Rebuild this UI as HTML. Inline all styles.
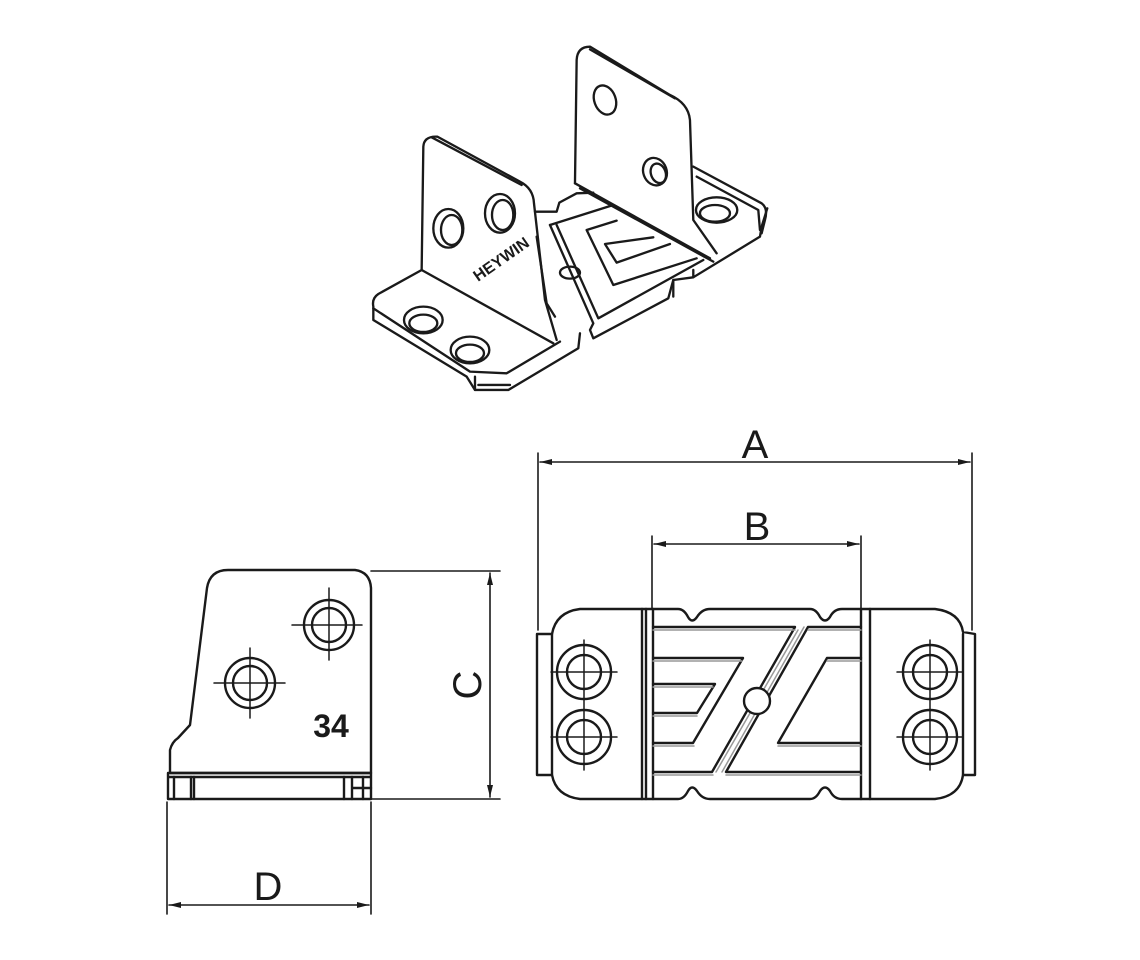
<!DOCTYPE html>
<html><head><meta charset="utf-8"><style>
html,body{margin:0;padding:0;background:#fff;}
svg{display:block}
text{font-family:"Liberation Sans",sans-serif;fill:#1a1a1a}
</style></head><body>
<svg width="1140" height="960" viewBox="0 0 1140 960" xmlns="http://www.w3.org/2000/svg">
<defs>
<marker id="ar" viewBox="0 0 12 6" refX="12" refY="3" markerWidth="12" markerHeight="6" orient="auto-start-reverse" markerUnits="userSpaceOnUse"><path d="M0,0 L12,3 L0,6 Z" fill="#1a1a1a"/></marker>
</defs>
<g fill="none" stroke="#1a1a1a" stroke-width="2.4" stroke-linejoin="round" stroke-linecap="round">

<!-- ISOMETRIC (zoom coords) -->
<g transform="translate(360,40) scale(0.3333)" stroke-width="7">
 <path d="M185,690 L190,320 Q192,288 232,290 L480,425 Q520,445 522,490 L555,780 L590,900"/>
 <path d="M215,292 L485,435"/>
 <path d="M530,590 L560,790 L585,830"/>
 <path d="M185,690 L580,910"/>
 <path d="M185,690 L55,762 Q35,775 40,800 L40,840 L320,1010 L345,1050 L445,1050 L655,925 L660,880"/>
 <path d="M40,805 L330,995 L440,1000 L600,905"/>
 <path d="M345,1010 L345,1050 M355,1035 L450,1035"/>
 <ellipse cx="190" cy="840" rx="58" ry="40"/><ellipse cx="190" cy="850" rx="42" ry="26"/>
 <ellipse cx="330" cy="930" rx="58" ry="40"/><ellipse cx="330" cy="940" rx="42" ry="26"/>
 <ellipse cx="265" cy="565" rx="45" ry="58"/><ellipse cx="275" cy="570" rx="32" ry="45"/>
 <ellipse cx="420" cy="520" rx="45" ry="58"/><ellipse cx="428" cy="525" rx="32" ry="45"/>
 <path d="M525,515 L590,515 L598,488 L650,460 L700,458"/>
 <path d="M570,555 L700,850 L690,870 L700,895 L925,775 L940,720 L1000,712 L1200,590 L1205,560 L1222,505"/>
 <path d="M570,555 L760,495"/>
 <path d="M590,555 L715,835 L1030,660"/>
 <path d="M770,542 L680,570 L760,735 L1010,655"/>
 <path d="M880,592 L735,612 L770,668 L930,612"/>
 <ellipse cx="630" cy="698" rx="30" ry="18"/>
 <path d="M940,720 L940,770 M1000,712 L1000,690"/>
 <path d="M645,430 L650,60 Q652,20 690,20 L930,165 Q985,190 990,240 L1000,540 L1070,640"/>
 <path d="M690,28 L945,175"/>
 <path d="M645,430 L1050,655"/>
 <path d="M660,445 L1060,665"/>
 <ellipse cx="735" cy="180" rx="32" ry="45" transform="rotate(-20 735 180)"/>
 <ellipse cx="885" cy="395" rx="35" ry="42" transform="rotate(-20 885 395)"/>
 <ellipse cx="895" cy="400" rx="22" ry="30" transform="rotate(-20 895 400)"/>
 <path d="M1000,380 L1205,490 Q1225,505 1215,540 L1205,580"/>
 <path d="M1010,410 L1195,510 L1200,570"/>
 <ellipse cx="1070" cy="510" rx="62" ry="38"/><ellipse cx="1065" cy="520" rx="45" ry="25"/>
</g>
<text x="0" y="0" font-size="16" font-weight="bold" transform="translate(478,282) rotate(-35)" stroke="none">HEYWIN</text>

<!-- SIDE VIEW -->
<path d="M170,773 L170,750 Q172,742 178,738 L190,725 L207,588 Q210,570 228,570 L355,570 Q370,572 371,588 L371,773 Z"/>
<path d="M168,773 L371,773 M168,777 L371,777 M168,773 L168,799 L371,799 L371,773"/>
<path d="M174,777 L174,799 M191,777 L191,799 M194,777 L194,799 M344,777 L344,799 M352,777 L352,799 M363,777 L363,799 M352,788 L371,788"/>
<circle cx="329" cy="625" r="25"/><circle cx="329" cy="625" r="17"/>
<path d="M292,625 L362,625 M329,588 L329,660" stroke-width="1.5"/>
<circle cx="250" cy="683" r="25"/><circle cx="250" cy="683" r="17"/>
<path d="M214,683 L285,683 M250,648 L250,718" stroke-width="1.5"/>
<path d="M371,571 L500,571 M371,799 L500,799" stroke-width="1.6"/>
<path d="M490,573 L490,797" stroke-width="1.6" marker-start="url(#ar)" marker-end="url(#ar)"/>
<path d="M167,802 L167,914 M371,802 L371,914" stroke-width="1.6"/>
<path d="M169,905 L369,905" stroke-width="1.6" marker-start="url(#ar)" marker-end="url(#ar)"/>

<!-- FRONT VIEW -->
<path d="M537,634 L552,634 Q556,612 580,609 L678,609 Q684,609 688,617 Q692,624 697,617 Q702,609 710,609 L810,609 Q816,609 820,617 Q825,624 830,617 Q834,609 842,609 L935,609 Q960,612 963,632 L975,634 L975,775 L963,775 Q960,796 935,799 L842,799 Q834,799 830,791 Q825,784 820,791 Q816,799 810,799 L710,799 Q702,799 697,791 Q692,784 688,791 Q684,799 678,799 L580,799 Q556,796 552,775 L537,775 Z"/>
<path d="M552,634 L552,775 M963,634 L963,775"/>
<path d="M642,609 L642,799 M646,609 L646,799 M653,609 L653,799 M861,609 L861,799 M870,609 L870,799"/>
<path d="M653,627 L795,627 L712,772 L653,772"/>
<path d="M653,658 L743,658 L693,743 L653,743"/>
<path d="M653,684 L715,684 L697,713 L653,713"/>
<path d="M861,627 L808,627 L726,772 L861,772"/>
<path d="M861,658 L827,658 L778,743 L861,743"/>
<g stroke="#999" stroke-width="1.5"><path d="M653,630 L795,630 M653,661 L742,661 M653,687 L713,687 M653,716 L697,716 M653,746 L694,746 M653,775 L713,775 M808,630 L861,630 M827,661 L861,661 M778,746 L861,746 M726,775 L861,775 M798,630 L716,772 M804,627 L722,772"/></g>
<circle cx="757" cy="701" r="13" fill="#fff"/>
<g>
<circle cx="584" cy="672" r="27"/><circle cx="584" cy="672" r="17"/>
<circle cx="584" cy="737" r="27"/><circle cx="584" cy="737" r="17"/>
<circle cx="930" cy="672" r="27"/><circle cx="930" cy="672" r="17"/>
<circle cx="930" cy="737" r="27"/><circle cx="930" cy="737" r="17"/>
<path d="M551,672 L617,672 M551,737 L617,737 M584,640 L584,770 M897,672 L963,672 M897,737 L963,737 M930,640 L930,770" stroke-width="1.5"/>
</g>
<path d="M538,453 L538,630 M972,453 L972,630" stroke-width="1.6"/>
<path d="M540,462 L970,462" stroke-width="1.6" marker-start="url(#ar)" marker-end="url(#ar)"/>
<path d="M652,536 L652,609 M861,536 L861,609" stroke-width="1.6"/>
<path d="M654,544 L859,544" stroke-width="1.6" marker-start="url(#ar)" marker-end="url(#ar)"/>
</g>
<g stroke="none">
<text x="755" y="458" font-size="40" text-anchor="middle">A</text>
<text x="757" y="540" font-size="40" text-anchor="middle">B</text>
<text x="0" y="0" font-size="40" text-anchor="middle" transform="translate(481,685) rotate(-90)">C</text>
<text x="268" y="900" font-size="40" text-anchor="middle">D</text>
<text x="331" y="737" font-size="32" font-weight="bold" text-anchor="middle">34</text>
</g>
</svg>
</body></html>
